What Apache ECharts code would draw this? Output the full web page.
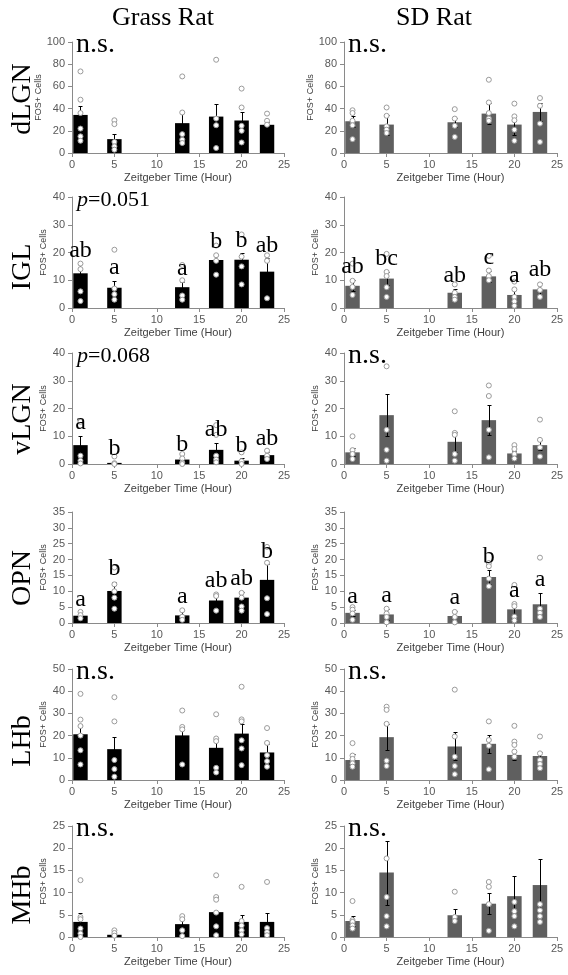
<!DOCTYPE html>
<html><head><meta charset="utf-8">
<script src="https://cdn.jsdelivr.net/npm/echarts@6/dist/echarts.min.js"></script>
<style>html,body{margin:0;padding:0;background:#fff}#c{width:568px;height:975px}</style>
</head><body><div id="c"></div>
<script>
// ---------- data ----------
const zt = [1, 5, 13, 17, 20, 23];
const columnTitles = ['Grass Rat', 'SD Rat'];
const regions = ['dLGN', 'IGL', 'vLGN', 'OPN', 'LHb', 'MHb'];
const yMax = [100, 40, 40, 35, 50, 25];
const yStep = [20, 10, 10, 5, 10, 5];
const grassNotes = ['n.s.', 'p=0.051', 'p=0.068', '', 'n.s.', 'n.s.'];
const sdNotes = ['n.s.', '', 'n.s.', '', 'n.s.', 'n.s.'];

const grassDlgnMean = [34.3, 12.5, 26.9, 32.8, 29.3, 25.4];
const grassDlgnSem = [8.1, 4.8, 10.4, 11.4, 8.0, 2.1];
const grassDlgnPts = [[73.5,48,36,22,15,11],[29.5,26,10,6,3],[69,36.5,17,12,9],[84,31,25,4.5],[58,41,24.5,20,9.5],[35.5,29,25.5]];
const grassDlgnLetters = [];

const sdDlgnMean = [28.6, 25.6, 27.7, 35.5, 25.6, 37.0];
const sdDlgnSem = [5.1, 9.0, 3.9, 9.7, 9.0, 8.2];
const sdDlgnPts = [[38.5,36,29,25,12.5],[41,33.5,24,21,18],[39.5,31,24.5,14.5],[66,45.5,36,31,29],[44.5,33,29.5,21,11],[49.5,42.5,26.5,10]];
const sdDlgnLetters = [];

const grassIglMean = [12.5, 7.3, 7.5, 17.3, 17.4, 13.1];
const grassIglSem = [3.3, 2.6, 1.8, 1.8, 2.3, 4.8];
const grassIglPts = [[16,14,6,2.5],[21,7,5,3],[15.5,10,4.5,3],[22.5,19,17,12],[26.5,18.5,15,8.5],[19,17,3.5]];
const grassIglLetters = ['ab', 'a', 'a', 'b', 'b', 'ab'];

const sdIglMean = [8.0, 10.6, 5.5, 11.4, 4.7, 6.7];
const sdIglSem = [2.0, 2.3, 1.5, 2.1, 2.3, 2.4];
const sdIglPts = [[16,9.8,7.6,4.7],[19.5,13,11.5,7.5,4],[8.5,5.5,4,3],[18.8,13.5,11.5,10],[9.5,6.7,4,2.4,0.8],[8.5,6.5,4]];
const sdIglLetters = ['ab', 'bc', 'ab', 'c', 'a', 'ab'];

const grassVlgnMean = [6.8, 0.4, 1.6, 5.1, 1.2, 3.2];
const grassVlgnSem = [3.3, 0.4, 0.8, 2.4, 0.8, 1.2];
const grassVlgnPts = [[15.2,3,1.2,0.2],[2.7,0.3,0],[3.6,2,0.5,0],[14,10.5,3,1.6,0.6],[4.2,1,0],[4.8,3,1.8]];
const grassVlgnLetters = ['a', 'b', 'b', 'ab', 'b', 'ab'];

const sdVlgnMean = [4.2, 17.6, 8.0, 15.8, 3.8, 6.8];
const sdVlgnSem = [1.4, 7.5, 3.6, 5.3, 1.0, 1.9];
const sdVlgnPts = [[10,5,3.6,1.8],[40.8,35.2,12.3,5.1,1.2],[19,11.2,10.5,3.6,1.2],[28.3,24.5,12.3,2.4],[6.8,5.4,3.6,2],[16,8.7,6,2.7]];
const sdVlgnLetters = [];

const grassOpnMean = [2.3, 10.1, 2.4, 7.1, 8.0, 13.6];
const grassOpnSem = [0.8, 2.8, 1.8, 2.0, 1.9, 4.9];
const grassOpnPts = [[3.5,2.5,1.5],[17.5,12.2,10,8,4.5],[4,2,1],[9,8.5,3.9],[9.5,8,5.2,3.9],[24,19,7.8,2.8]];
const grassOpnLetters = ['a', 'b', 'a', 'ab', 'ab', 'b'];

const sdOpnMean = [3.2, 2.7, 2.2, 14.5, 4.3, 5.9];
const sdOpnSem = [1.0, 1.8, 1.6, 2.3, 1.8, 3.6];
const sdOpnPts = [[5,4.2,3,1],[4.5,3,1.9,0.2],[3.5,1.9,0.2],[18.9,17.9,14,11.6],[12,6,5.3,2,0.8],[20.6,4.5,3.2,1.9]];
const sdOpnLetters = ['a', 'a', 'a', 'b', 'a', 'a'];

const grassLhbMean = [20.6, 13.9, 20.1, 14.5, 20.9, 12.4];
const grassLhbSem = [4.3, 5.5, 3.8, 4.5, 4.5, 3.6];
const grassLhbPts = [[38.8,27.2,24.3,20,13.4,7],[37.3,26.4,9,4.9,1.5],[31.3,23.9,22.8,7],[29.6,18.7,17.5,5.5,3.4],[42,27.3,26.4,17.9,14.2,6.7],[23.4,16.7,11.2,8.5,6]];
const grassLhbLetters = [];

const sdLhbMean = [9.0, 19.3, 15.1, 16.3, 11.3, 10.8];
const sdLhbSem = [2.7, 6.0, 6.3, 4.0, 2.3, 2.0];
const sdLhbPts = [[16.6,11,9.5,7.5,6],[33,31.6,25.3,8.7,6.3],[40.7,19.6,10.5,6.3,2.6],[26.4,18,15.4,4.8],[24.4,17.3,15.8,12.8,10.5],[19.6,12,9,7.2,5.3]];
const sdLhbLetters = [];

const grassMhbMean = [3.4, 0.5, 2.9, 5.6, 3.4, 3.4];
const grassMhbSem = [1.9, 0.3, 1.2, 0.3, 1.5, 1.9];
const grassMhbPts = [[12.8,4.5,4,1.9,0.8,0],[1.5,0.9,0.3],[4.7,4,1.5,0.2],[13.9,9,8.4,5.5,2.4,0.4],[11.3,3.6,2.6,1.5,0.6],[12.4,2,1.1,0.4]];
const grassMhbLetters = [];

const sdMhbMean = [3.6, 14.5, 4.9, 7.5, 9.2, 11.7];
const sdMhbSem = [1.1, 7.2, 1.3, 2.4, 4.5, 5.8];
const sdMhbPts = [[8.1,3.8,3.4,2.6,1.9],[26.7,17.7,9,4.7,2.4],[10.2,4.5,3.6],[12.4,11.3,7.4,1.4],[26.7,7.9,5.8,4.7,2.4],[26.5,7.4,6,4.7,3.4]];
const sdMhbLetters = [];

// ---------- layout / style ----------
const serif = '"Liberation Serif", "Times New Roman", serif';
const sans = '"Liberation Sans", Arial, sans-serif';
const colLeft = [72, 344];
const colWidth = [212, 213];
const rowTop = [42, 197, 353, 512, 669, 826];
const rowH = 111;
const barColor = ['#000000', '#5f5f5f'];
const halfW = 0.85;
const axisGray = '#8a8a8a';
const labelGray = '#595959';

const panelRows = [
  [[grassDlgnMean, grassDlgnSem, grassDlgnPts, grassDlgnLetters], [sdDlgnMean, sdDlgnSem, sdDlgnPts, sdDlgnLetters]],
  [[grassIglMean, grassIglSem, grassIglPts, grassIglLetters], [sdIglMean, sdIglSem, sdIglPts, sdIglLetters]],
  [[grassVlgnMean, grassVlgnSem, grassVlgnPts, grassVlgnLetters], [sdVlgnMean, sdVlgnSem, sdVlgnPts, sdVlgnLetters]],
  [[grassOpnMean, grassOpnSem, grassOpnPts, grassOpnLetters], [sdOpnMean, sdOpnSem, sdOpnPts, sdOpnLetters]],
  [[grassLhbMean, grassLhbSem, grassLhbPts, grassLhbLetters], [sdLhbMean, sdLhbSem, sdLhbPts, sdLhbLetters]],
  [[grassMhbMean, grassMhbSem, grassMhbPts, grassMhbLetters], [sdMhbMean, sdMhbSem, sdMhbPts, sdMhbLetters]]
];

function barRenderer(color) {
  return function (params, api) {
    const x = api.value(0), m = api.value(1), s = api.value(2);
    const a = api.coord([x - halfW, m]);
    const b = api.coord([x + halfW, 0]);
    const t = api.coord([x, m + s]);
    const d = api.coord([x, Math.max(0, m - s)]);
    const cx = Math.round(t[0]) + 0.5;
    const ty = Math.round(t[1]) + 0.5, dy = Math.round(d[1]) + 0.5;
    const lw = { stroke: '#000', lineWidth: 1 };
    return {
      type: 'group',
      children: [
        { type: 'rect', shape: { x: a[0], y: a[1], width: b[0] - a[0], height: b[1] - a[1] }, style: { fill: color } },
        { type: 'line', shape: { x1: cx, y1: ty, x2: cx, y2: dy }, style: lw },
        { type: 'line', shape: { x1: cx - 2, y1: ty, x2: cx + 2, y2: ty }, style: lw },
        { type: 'line', shape: { x1: cx - 2, y1: dy, x2: cx + 2, y2: dy }, style: lw }
      ]
    };
  };
}

function letterRenderer(letters) {
  return function (params, api) {
    const x = api.value(0), m = api.value(1), s = api.value(2);
    const t = api.coord([x, m + s]);
    return {
      type: 'text',
      x: t[0], y: t[1] - 5 - 0.3375 * 24,
      style: { text: letters[params.dataIndex], font: '24px ' + serif, fill: '#000', align: 'center', verticalAlign: 'middle' }
    };
  };
}

const grids = [], xAxes = [], yAxes = [], series = [], graphics = [];

columnTitles.forEach((t, c) => {
  graphics.push({ type: 'text', x: c === 0 ? 163 : 434, y: 18,
    style: { text: t, font: '26px ' + serif, fill: '#000', align: 'center', verticalAlign: 'middle' } });
});
const rowLabelY = [99, 267, 419, 578, 741, 895];
regions.forEach((r, i) => {
  graphics.push({ type: 'text', x: 22.5, y: rowLabelY[i], rotation: Math.PI / 2,
    style: { text: r, font: '28px ' + serif, fill: '#000', align: 'center', verticalAlign: 'middle' } });
});

panelRows.forEach((row, r) => {
  row.forEach((panel, c) => {
    const [mean, sem, pts, letters] = panel;
    const idx = grids.length;
    grids.push({ left: colLeft[c], top: rowTop[r], width: colWidth[c], height: rowH });
    xAxes.push({
      gridIndex: idx, type: 'value', min: 0, max: 25, interval: 5,
      axisLine: { show: true, lineStyle: { color: axisGray } },
      axisTick: { show: true, length: 4, lineStyle: { color: axisGray } },
      axisLabel: { fontSize: 11, color: labelGray, margin: 6, fontFamily: sans },
      splitLine: { show: false },
      name: 'Zeitgeber Time (Hour)', nameLocation: 'middle', nameGap: 19,
      nameTextStyle: { fontSize: 11, color: '#404040', fontFamily: sans }
    });
    yAxes.push({
      gridIndex: idx, type: 'value', min: 0, max: yMax[r], interval: yStep[r],
      axisLine: { show: true, lineStyle: { color: axisGray } },
      axisTick: { show: true, length: 4, lineStyle: { color: axisGray } },
      axisLabel: { fontSize: 11, color: labelGray, margin: 7, fontFamily: sans },
      splitLine: { show: false },
      name: 'FOS+ Cells', nameLocation: 'middle', nameGap: 24,
      nameTextStyle: { fontSize: 9, color: '#404040', fontFamily: sans }
    });
    const barData = mean.map((m, i) => [zt[i], m, sem[i]]);
    series.push({
      type: 'custom', xAxisIndex: idx, yAxisIndex: idx, z: 2, silent: true,
      renderItem: barRenderer(barColor[c]), data: barData, encode: { x: 0, y: 1 }
    });
    const scatterData = [];
    pts.forEach((arr, i) => arr.forEach(v => scatterData.push([zt[i], v])));
    series.push({
      type: 'scatter', xAxisIndex: idx, yAxisIndex: idx, z: 3, silent: true,
      symbol: 'circle', symbolSize: 5, data: scatterData,
      itemStyle: { color: '#ffffff', borderColor: '#9b9b9b', borderWidth: 1, opacity: 1 }
    });
    if (letters.length) {
      series.push({
        type: 'custom', xAxisIndex: idx, yAxisIndex: idx, z: 4, silent: true,
        renderItem: letterRenderer(letters), data: barData, encode: { x: 0, y: 1 }
      });
    }
    const note = c === 0 ? grassNotes[r] : sdNotes[r];
    if (note) {
      if (note.startsWith('p')) {
        graphics.push({ type: 'text', x: colLeft[c] + 5, y: rowTop[r] + 3,
          style: { text: '{i|p}{n|' + note.slice(1) + '}', font: '22px ' + serif, fill: '#000', verticalAlign: 'middle',
            rich: { i: { font: 'italic 22px ' + serif, fill: '#000' }, n: { font: '22px ' + serif, fill: '#000' } } } });
      } else {
        graphics.push({ type: 'text', x: colLeft[c] + 4, y: rowTop[r] + 2.5,
          style: { text: note, font: '28px ' + serif, fill: '#000', verticalAlign: 'middle' } });
      }
    }
  });
});

const chart = echarts.init(document.getElementById('c'), null, { renderer: 'canvas' });
chart.setOption({
  animation: false,
  backgroundColor: '#ffffff',
  grid: grids, xAxis: xAxes, yAxis: yAxes, series: series,
  graphic: graphics
});
</script></body></html>
